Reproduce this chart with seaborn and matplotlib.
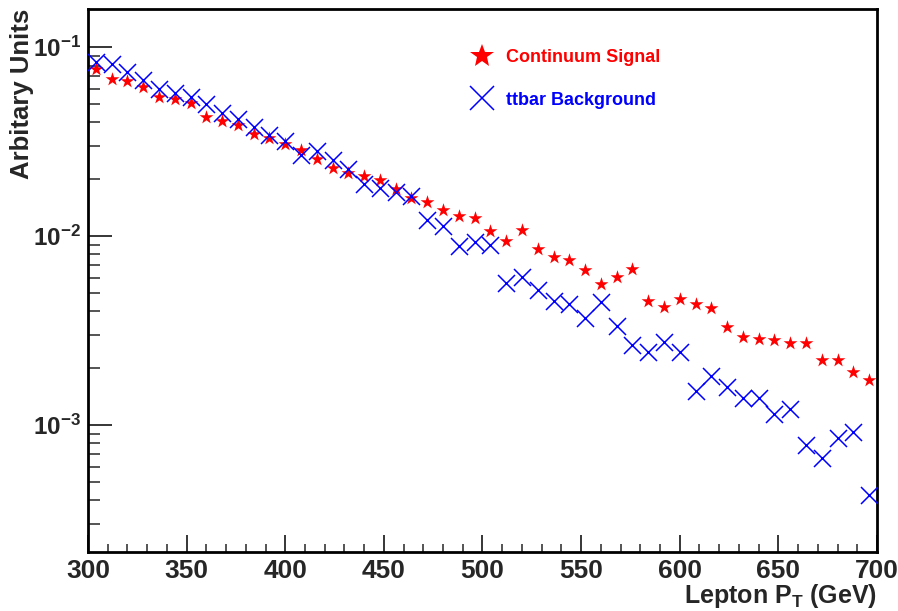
import numpy as np
import pandas as pd
import seaborn as sns
import matplotlib.pyplot as plt
from matplotlib.lines import Line2D
from matplotlib.ticker import MultipleLocator, LogLocator, FuncFormatter, NullFormatter

# lepton pT bin centres (8 GeV bins, 300-700 GeV)
pt = np.arange(304, 700, 8)

# normalised yields
signal = [0.0771, 0.0677, 0.0659, 0.0617, 0.0546, 0.0535, 0.0507, 0.0426, 0.0409, 0.0387,
          0.0349, 0.0329, 0.0309, 0.0285, 0.0255, 0.0230, 0.0216, 0.0207, 0.0198, 0.0177,
          0.0160, 0.0152, 0.0137, 0.0128, 0.0124, 0.0107, 0.00944, 0.0108, 0.00851, 0.00777,
          0.00746, 0.00661, 0.00555, 0.00610, 0.00667, 0.00455, 0.00423, 0.00465, 0.00435, 0.00418,
          0.00329, 0.00291, 0.00285, 0.00282, 0.00271, 0.00271, 0.00221, 0.00221, 0.00191, 0.00173]
background = [0.0836, 0.0813, 0.0735, 0.0669, 0.0600, 0.0575, 0.0546, 0.0501, 0.0451, 0.0418,
              0.0379, 0.0342, 0.0319, 0.0268, 0.0282, 0.0252, 0.0228, 0.0188, 0.0179, 0.0172,
              0.0163, 0.0122, 0.0113, 0.00885, 0.00933, 0.00896, 0.00562, 0.00610, 0.00518, 0.00453,
              0.00440, 0.00370, 0.00446, 0.00334, 0.00267, 0.00243, 0.00276, 0.00243, 0.00152, 0.00182,
              0.00159, 0.00139, 0.00139, 0.00115, 0.00122, 0.000784, 0.000667, 0.000851, 0.000915, 0.000427]

labels = ['Continuum Signal', 'ttbar Background']

df = pd.DataFrame({'pt': pt, 'sig': signal, 'bkg': background})

sns.set_style('ticks')
plt.rcParams['font.family'] = ['Liberation Sans', 'DejaVu Sans']
plt.rcParams['font.weight'] = 'bold'
plt.rcParams['mathtext.fontset'] = 'custom'
plt.rcParams['mathtext.rm'] = 'Liberation Sans:bold'
plt.rcParams['mathtext.bf'] = 'Liberation Sans:bold'

fig = plt.figure(figsize=(8.98, 6.11), dpi=100)
ax = fig.add_axes([0.098, 0.0966, 0.8786, 0.8884])

sns.scatterplot(data=df, x='pt', y='sig', marker='*', color='red', s=110,
                linewidth=0, ax=ax, zorder=3)
sns.scatterplot(data=df, x='pt', y='bkg', marker='x', color='blue', s=150,
                linewidth=1.1, ax=ax, zorder=3)

ax.set_yscale('log')
ax.set_xlim(300, 700)
ax.set_ylim(2.13e-4, 0.159)

ax.xaxis.set_major_locator(MultipleLocator(50))
ax.xaxis.set_minor_locator(MultipleLocator(10))
ax.yaxis.set_major_locator(LogLocator(base=10))
ax.yaxis.set_minor_locator(LogLocator(base=10, subs=np.arange(2, 10)))
ax.yaxis.set_major_formatter(FuncFormatter(lambda v, p: r'$\mathbf{10^{%d}}$' % round(np.log10(v))))
ax.yaxis.set_minor_formatter(NullFormatter())

ax.tick_params(axis='x', which='major', direction='in', length=12, width=1.3,
               labelsize=19, pad=5, top=False)
ax.tick_params(axis='x', which='minor', direction='in', length=6, width=1.1, top=False)
ax.tick_params(axis='y', which='major', direction='in', length=17, width=1.3,
               labelsize=17.5, pad=5, right=False)
ax.tick_params(axis='y', which='minor', direction='in', length=8.5, width=1.1, right=False)

for sp in ax.spines.values():
    sp.set_visible(True)
    sp.set_linewidth(2)
    sp.set_color('black')

ax.set_xlabel(r'Lepton P$_\mathbf{T}$ (GeV)', fontsize=18, fontweight='bold', loc='right')
ax.xaxis.set_label_coords(1.0, -0.056)
ax.set_ylabel('Arbitary Units', fontsize=18.5, fontweight='bold', loc='top')
ax.yaxis.set_label_coords(-0.068, 1.0)

handles = [Line2D([], [], marker='*', color='red', linestyle='none', markersize=18, markeredgewidth=0),
           Line2D([], [], marker='x', color='blue', linestyle='none', markersize=17, markeredgewidth=1.1)]
leg = ax.legend(handles, labels, loc='upper left', bbox_to_anchor=(0.456, 0.956),
                frameon=False, handletextpad=0.3, labelspacing=1.4,
                prop={'weight': 'bold', 'size': 13})
for t, c in zip(leg.get_texts(), ['red', 'blue']):
    t.set_color(c)

fig.savefig('out.png', dpi=100)
